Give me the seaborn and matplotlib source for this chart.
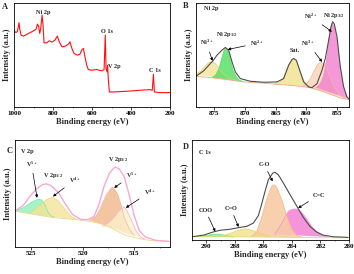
import matplotlib
matplotlib.use("Agg")
import matplotlib.pyplot as plt
import seaborn as sns
from matplotlib.ticker import MultipleLocator

# ---------------- A: survey spectrum ----------------
survey_be = [1000, 991, 983, 978, 974, 971, 964, 952, 935, 909, 887, 880, 874, 868, 863, 856,
             851, 846, 832, 819, 805, 790, 778, 768, 754, 737, 721, 713, 703, 692, 675, 662,
             651, 644, 638, 627, 619, 602, 576, 550, 538, 532, 528, 523, 520, 516, 511, 491,
             422, 354, 303, 291, 285, 280, 251, 200]
survey_int = [228, 223, 225, 240, 252, 235, 215, 212, 217, 225, 232, 248, 242, 220, 235, 275,
              245, 192, 192, 198, 194, 200, 212, 195, 180, 182, 188, 195, 175, 160, 155, 158,
              172, 175, 155, 125, 112, 110, 112, 108, 112, 215, 115, 105, 125, 80, 45, 45,
              47, 50, 52, 50, 98, 45, 43, 43]

# ---------------- B: Ni 2p ----------------
ni_bg_be = [878.0, 875.7, 873.0, 870.2, 867.5, 864.8, 862.0, 859.3, 857.7, 856.0, 854.4, 853.0]
ni_bg_int = [92, 88, 82, 75, 72, 68, 64, 58, 50, 38, 27, 22]
ni_env_be = [878.0, 876.75, 875.66, 875.28, 874.57, 873.75, 873.21, 872.66, 872.12, 871.57,
             870.76, 869.12, 866.94, 864.76, 863.68, 862.86, 862.31, 862.04, 861.61, 861.06,
             860.41, 859.59, 859.05, 858.23, 857.41, 856.87, 856.32, 855.94, 855.67, 855.40,
             854.96, 854.42, 853.87, 853.33, 853.0]
ni_env_int = [92, 108, 130, 137, 155, 170, 178, 170, 135, 105, 85, 77, 74, 75, 85, 125, 142,
              145, 140, 110, 75, 60, 58, 70, 110, 145, 200, 240, 255, 248, 210, 120, 60, 30, 24]
ni3_sat_be = [878.0, 877.2, 876.5, 875.9, 875.4, 874.9, 874.3, 873.7, 873.0, 872.3, 871.6]
ni3_sat_int = [97, 108, 122, 133, 136, 131, 118, 102, 90, 84, 81]
ni2_half_be = [875.4, 874.8, 874.3, 873.8, 873.4, 873.1, 872.7, 872.3, 871.9, 871.4, 870.9, 870.3]
ni2_half_int = [88, 95, 112, 145, 170, 175, 165, 135, 108, 90, 80, 76]
sat_be = [865.2, 864.5, 863.9, 863.4, 862.9, 862.4, 862.0, 861.6, 861.1, 860.6, 860.1, 859.5]
sat_int = [69, 72, 80, 100, 125, 141, 144, 138, 115, 88, 70, 61]
ni3_be = [860.6, 859.9, 859.3, 858.7, 858.1, 857.6, 857.1, 856.5, 855.9, 855.3, 854.7, 854.1, 853.5]
ni3_int = [62, 70, 85, 108, 128, 135, 128, 108, 80, 55, 40, 30, 25]
ni2_be = [858.4, 857.9, 857.4, 857.0, 856.6, 856.2, 855.8, 855.4, 855.0, 854.6, 854.2, 853.8, 853.4, 853.0]
ni2_int = [58, 65, 80, 105, 150, 215, 250, 240, 200, 140, 85, 50, 32, 24]

# ---------------- C: V 2p ----------------
v_bg_be = [526.6, 524.8, 523.2, 521.6, 520.0, 518.4, 517.4, 516.8, 515.8, 514.5, 513.5, 512.6, 511.6]
v_bg_int = [108, 98, 90, 85, 80, 72, 62, 50, 35, 25, 20, 18, 17]
v_env_be = [526.6, 525.8, 525.2, 524.5, 523.9, 523.55, 523.1, 522.4, 521.6, 521.0, 520.2, 519.5,
            518.9, 518.4, 517.9, 517.4, 516.95, 516.8, 516.45, 515.97, 515.5, 515.0, 514.5,
            513.9, 512.9, 511.6]
v_env_int = [108, 125, 150, 175, 188, 190, 185, 165, 125, 98, 83, 82, 92, 130, 185, 222, 238,
             240, 235, 212, 160, 95, 50, 30, 20, 17]
v5_half_be = [526.6, 525.8, 525.0, 524.35, 524.03, 523.71, 523.39, 523.06, 522.7]
v5_half_int = [108, 118, 135, 144, 142, 130, 105, 93, 89]
v4_half_be = [525.16, 524.68, 524.19, 523.55, 522.97, 522.42, 521.77, 521.13, 520.48]
v4_half_int = [100, 113, 125, 142, 150, 140, 115, 92, 82]
v5_be = [519.35, 518.71, 518.23, 517.74, 517.26, 517.10, 516.94, 516.61, 516.29, 515.97, 515.48, 515.0]
v5_int = [80, 92, 120, 155, 176, 180, 175, 160, 130, 90, 55, 35]
v4_be = [518.06, 517.42, 516.94, 516.52, 516.13, 515.97, 515.74, 515.32, 514.84, 514.35, 513.87]
v4_int = [62, 75, 90, 108, 118, 120, 112, 85, 50, 30, 22]

# ---------------- D: C 1s ----------------
c_bg_be = [291, 288, 286, 284, 282, 280]
c_bg_int = [12, 12, 11, 10, 9, 9]
c_env_be = [291, 290.19, 289.49, 289.02, 288.33, 287.74, 287.16, 286.7, 286.35, 286.12, 285.88,
            285.65, 285.35, 285.19, 284.95, 284.6, 284.14, 283.67, 283.21, 282.74, 282.28,
            281.81, 281.12, 280.07]
c_env_int = [12, 17, 27, 32, 35, 40, 44, 54, 77, 112, 152, 187, 207, 210, 202, 177, 142, 107,
             72, 44, 27, 17, 12, 10]
coo_be = [290.65, 289.95, 289.49, 289.14, 288.67, 288.09]
coo_int = [12, 16, 20, 20, 16, 11]
c_o2_be = [289.02, 288.33, 287.74, 287.28, 286.81, 286.23, 285.53]
c_o2_int = [12, 22, 32, 36, 32, 22, 12]
c_o_be = [286.81, 286.47, 286.12, 285.77, 285.42, 285.26, 285.07, 284.72, 284.37, 284.02, 283.67, 283.33]
c_o_int = [12, 27, 72, 127, 167, 172, 164, 127, 77, 37, 17, 11]
c_c_be = [285.2, 284.9, 284.6, 284.4, 284.2, 283.9, 283.67, 283.4, 283.1, 282.8, 282.5, 282.2, 281.9, 281.5]
c_c_int = [20, 40, 62, 80, 92, 97, 97, 90, 75, 55, 38, 25, 16, 11]

sns.set_theme(style="white")
plt.rcParams["font.family"] = ["Liberation Serif", "DejaVu Serif"]
plt.rcParams["font.weight"] = "bold"
plt.rcParams["mathtext.fontset"] = "custom"
plt.rcParams["mathtext.rm"] = "Liberation Serif:bold"
plt.rcParams["mathtext.bf"] = "Liberation Serif:bold"
plt.rcParams["mathtext.it"] = "Liberation Serif:bold"
plt.rcParams["mathtext.default"] = "bf"

fig = plt.figure(figsize=(3.54, 2.74), dpi=100)
W, H = 354, 274


def px_axes(x0, y0, x1, y1):
    return fig.add_axes([x0 / W, 1 - y1 / H, (x1 - x0) / W, (y1 - y0) / H])


def style(ax, xlim, ylim, major, minor):
    ax.set_xlim(*xlim)
    ax.set_ylim(*ylim)
    ax.set_yticks([])
    ax.xaxis.set_major_locator(MultipleLocator(major))
    ax.xaxis.set_minor_locator(MultipleLocator(minor))
    ax.tick_params(axis="x", which="major", bottom=True, direction="out", length=2,
                   width=0.5, labelsize=5, pad=1, colors="black")
    ax.tick_params(axis="x", which="minor", bottom=True, direction="out", length=1, width=0.4)
    ax.set_xlabel("Binding energy (eV)", fontsize=6, fontweight="bold", labelpad=1)
    ax.set_ylabel("Intensity (a.u.)", fontsize=6, fontweight="bold", labelpad=2)
    for s in ax.spines.values():
        s.set_linewidth(0.6)
        s.set_color("black")


def line(ax, x, y, color, lw=0.7):
    sns.lineplot(x=x, y=y, ax=ax, color=color, lw=lw, estimator=None, legend=False)


def peak(ax, x, y, fill, edge, alpha=0.8):
    ax.fill(x, y, color=fill, alpha=alpha, lw=0)
    line(ax, x, y, edge, lw=0.5)


arrow = dict(arrowstyle="-|>", lw=0.5, color="black", mutation_scale=4, shrinkA=1, shrinkB=0)
fs = 4.5

# ---- A ----
axA = px_axes(14, 3, 170, 107)
line(axA, survey_be, survey_int, "#ff1010", lw=0.8)
style(axA, (1000, 200), (0, 311), 200, 100)
axA.text(848, 282, "Ni 2p", fontsize=fs, ha="center", va="center")
axA.text(523, 225, "O 1s", fontsize=fs, ha="center", va="center")
axA.text(487, 120, "V 2p", fontsize=fs, ha="center", va="center")
axA.text(277, 108, "C 1s", fontsize=fs, ha="center", va="center")

# ---- B ----
axB = px_axes(196, 3, 349, 107)
peak(axB, ni3_sat_be, ni3_sat_int, "#f5e39a", "#e8c77a")
peak(axB, ni2_half_be, ni2_half_int, "#4fe05c", "#5fd86a")
peak(axB, sat_be, sat_int, "#f2e28c", "#e8cf7a")
peak(axB, ni3_be, ni3_int, "#f9d2b6", "#f0b896")
peak(axB, ni2_be, ni2_int, "#f27fd0", "#f08ad0")
line(axB, ni_bg_be, ni_bg_int, "#f2a979", lw=0.6)
line(axB, ni_env_be, ni_env_int, "#4d4d4d", lw=0.8)
style(axB, (878, 853), (0, 311), 5, 2.5)
axB.text(876.7, 296, "Ni 2p", fontsize=fs, ha="left", va="center")
axB.annotate("Ni$^{3+}$", xy=(875.3, 138), xytext=(876.3, 192), fontsize=fs,
             ha="center", va="center", arrowprops=arrow)
axB.text(873.0, 217, "Ni 2p$_{1/2}$", fontsize=fs, ha="center", va="center")
axB.annotate("Ni$^{2+}$", xy=(872.8, 172), xytext=(868.1, 190), fontsize=fs,
             ha="center", va="center", arrowprops=arrow)
axB.text(861.9, 168, "Sat.", fontsize=fs, ha="center", va="center")
axB.annotate("Ni$^{3+}$", xy=(857.4, 135), xytext=(859.7, 190), fontsize=fs,
             ha="center", va="center", arrowprops=arrow)
axB.annotate("Ni$^{2+}$", xy=(855.8, 225), xytext=(859.2, 270), fontsize=fs,
             ha="center", va="center", arrowprops=arrow)
axB.text(855.4, 275, "Ni 2p$_{3/2}$", fontsize=fs, ha="center", va="center")

# ---- C ----
axC = px_axes(15, 140, 170, 247)
peak(axC, v5_half_be, v5_half_int, "#8ff0b8", "#7ee8a0")
peak(axC, v4_half_be, v4_half_int, "#f4e49a", "#eed77a")
peak(axC, v5_be, v5_int, "#f0b88a", "#f5b5a0")
peak(axC, v4_be, v4_int, "#fdf0cc", "#f6a9c8")
line(axC, v_bg_be, v_bg_int, "#ecd98a", lw=0.6)
line(axC, v_env_be, v_env_int, "#f7a8d6", lw=1.0)
style(axC, (526.6, 511.5), (0, 322), 5, 2.5)
axC.text(525.97, 288, "V 2p", fontsize=fs, ha="left", va="center")
axC.annotate("V$^{5+}$", xy=(524.45, 148), xytext=(525.0, 250), fontsize=fs,
             ha="center", va="center", arrowprops=arrow)
axC.text(522.9, 215, "V 2p$_{1/2}$", fontsize=fs, ha="center", va="center")
axC.annotate("V$^{4+}$", xy=(522.9, 152), xytext=(520.8, 202), fontsize=fs,
             ha="center", va="center", arrowprops=arrow)
axC.text(516.6, 262, "V 2p$_{3/2}$", fontsize=fs, ha="center", va="center")
axC.annotate("V$^{5+}$", xy=(516.94, 178), xytext=(515.26, 215), fontsize=fs,
             ha="center", va="center", arrowprops=arrow)
axC.annotate("V$^{4+}$", xy=(515.8, 118), xytext=(513.5, 165), fontsize=fs,
             ha="center", va="center", arrowprops=arrow)

# ---- D ----
axD = px_axes(192, 140, 349, 240)
peak(axD, coo_be, coo_int, "#7feaa0", "#6fdc8c")
peak(axD, c_o2_be, c_o2_int, "#f1e28a", "#e6d070")
peak(axD, c_c_be, c_c_int, "#f47ad2", "#f090d8")
peak(axD, c_o_be, c_o_int, "#f8cba4", "#f3b58a", alpha=0.9)
line(axD, c_bg_be, c_bg_int, "#dede60", lw=0.6)
line(axD, c_env_be, c_env_int, "#4d4d4d", lw=0.8)
style(axD, (291, 280), (2, 309), 2, 1)
axD.text(290.53, 270, "C 1s", fontsize=fs, ha="left", va="center")
axD.annotate("COO", xy=(289.37, 28), xytext=(290.07, 94), fontsize=fs,
             ha="center", va="center", arrowprops=arrow)
axD.annotate("C=O", xy=(287.74, 42), xytext=(288.28, 99), fontsize=fs,
             ha="center", va="center", arrowprops=arrow)
axD.annotate("C-O", xy=(285.35, 182), xytext=(285.95, 234), fontsize=fs,
             ha="center", va="center", arrowprops=arrow)
axD.annotate("C=C", xy=(283.56, 100), xytext=(282.12, 140), fontsize=fs,
             ha="center", va="center", arrowprops=arrow)

# panel letters
for letter, (px, py) in {"A": (5, 7), "B": (186, 6), "C": (9.5, 151), "D": (186, 147)}.items():
    fig.text(px / W, 1 - py / H, letter, fontsize=6, fontweight="bold", ha="center", va="center")

fig.savefig("out.png", dpi=100)
